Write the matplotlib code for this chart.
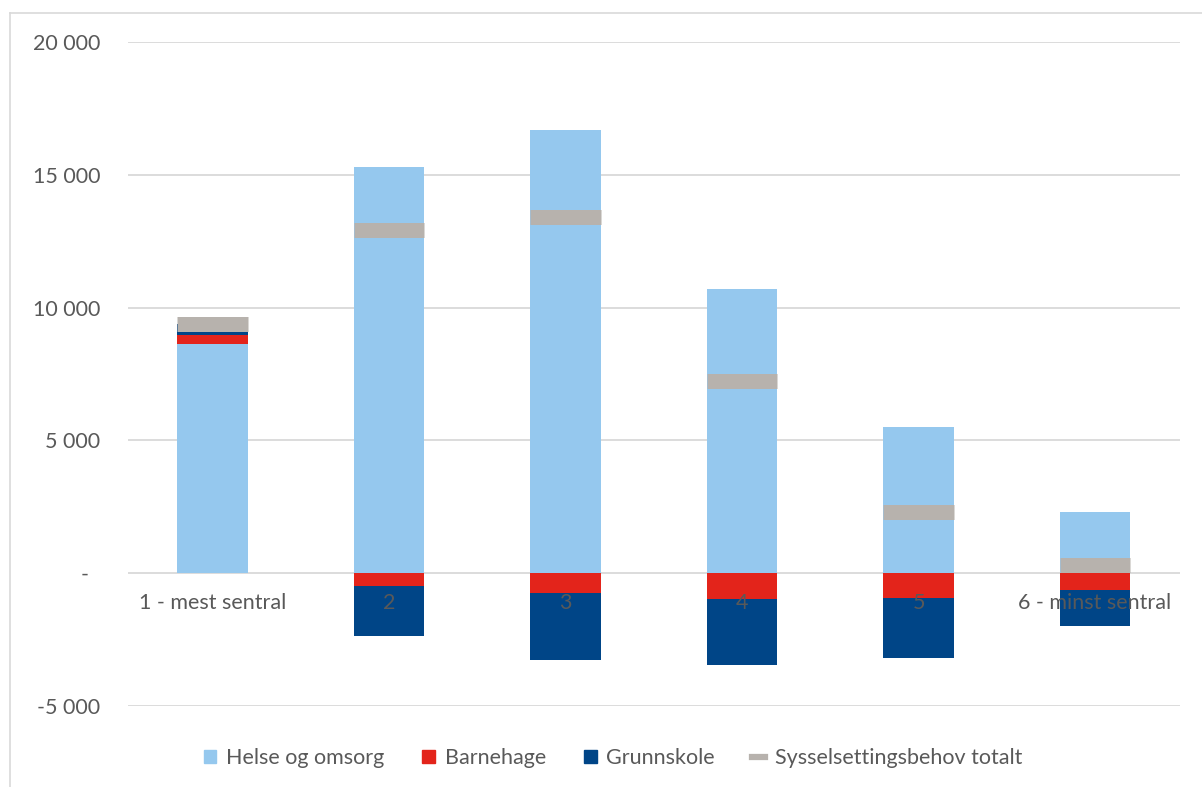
import matplotlib
matplotlib.use("Agg")
import matplotlib.pyplot as plt
from matplotlib.lines import Line2D
from matplotlib.patches import Patch
import numpy as np

categories = ["1 - mest sentral", "2", "3", "4", "5", "6 - minst sentral"]
helse = [8630, 15290, 16690, 10700, 5500, 2300]
barnehage = [340, -490, -750, -980, -940, -620]
grunnskole = [410, -1880, -2530, -2490, -2260, -1360]
totalt = [9380, 12920, 13410, 7230, 2300, 320]
yticks = [-5000, 0, 5000, 10000, 15000, 20000]
ytick_labels = ["-5 000", "-  ", "5 000", "10 000", "15 000", "20 000"]

c_helse = "#95C8EE"
c_barn = "#E3241B"
c_grunn = "#004587"
c_tot = "#B7B2AD"
c_grid = "#D9D9D9"
c_text = "#595959"

plt.rcParams['font.family'] = ['Lato', 'DejaVu Sans']
FS = 15.5

fig = plt.figure(figsize=(12.02, 7.87), dpi=100)
ax = fig.add_axes([0.1065, 0.1029, 0.875, 0.8437])

x = np.arange(len(categories))
w = 0.40
helse = np.array(helse, float)
barn = np.array(barnehage, float)
grunn = np.array(grunnskole, float)

pos_base = helse.copy()
neg_base = np.zeros(len(x))
b_bottom = np.where(barn >= 0, pos_base, neg_base)
pos_base = np.where(barn >= 0, pos_base + barn, pos_base)
neg_base = np.where(barn < 0, neg_base + barn, neg_base)
g_bottom = np.where(grunn >= 0, pos_base, neg_base)

ax.bar(x, helse, w, color=c_helse, zorder=2)
ax.bar(x, barn, w, bottom=b_bottom, color=c_barn, zorder=2)
ax.bar(x, grunn, w, bottom=g_bottom, color=c_grunn, zorder=2)
ax.hlines(totalt, x - w / 2, x + w / 2, colors=c_tot, linewidth=10.8, zorder=3)

ax.set_xlim(-0.48, 5.48)
ax.set_ylim(-5000, 20000)
ax.set_yticks(yticks)
ax.set_yticklabels(ytick_labels)
ax.tick_params(axis='y', length=0, pad=20, labelsize=FS, labelcolor=c_text)
ax.set_xticks([])
ax.grid(axis='y', color=c_grid, linewidth=1.3, zorder=0)
for s in ax.spines.values():
    s.set_visible(False)

for xi, lab in zip(x, categories):
    ax.text(xi, -1130, lab, ha='center', va='center', fontsize=FS,
            color=c_text, zorder=5)

handles = [Patch(color=c_helse), Patch(color=c_barn), Patch(color=c_grunn),
           Line2D([0], [0], color=c_tot, linewidth=4.5)]
labels = ["Helse og omsorg", "Barnehage", "Grunnskole", "Sysselsettingsbehov totalt"]
leg = fig.legend(handles, labels, loc='center',
                 bbox_to_anchor=(613 / 1202, 1 - 758 / 787),
                 ncol=4, frameon=False, fontsize=FS, handlelength=0.6,
                 handleheight=0.6, handletextpad=0.45, columnspacing=1.75)
for t in leg.get_texts():
    t.set_color(c_text)

fig.add_artist(Line2D([10 / 1202, 10 / 1202], [0, 1 - 13 / 787], color=c_grid,
                      linewidth=1.2, transform=fig.transFigure))
fig.add_artist(Line2D([10 / 1202, 1], [1 - 13 / 787, 1 - 13 / 787], color=c_grid,
                      linewidth=1.2, transform=fig.transFigure))

fig.savefig("out.png", dpi=100)
